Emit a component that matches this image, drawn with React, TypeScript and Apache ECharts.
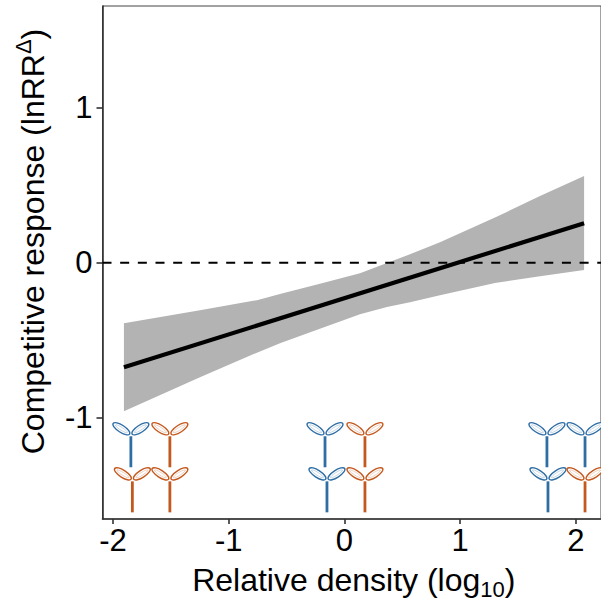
import React, { useEffect, useRef } from "react";
import * as echarts from "echarts";

const xTicks = [-2, -1, 0, 1, 2];
const yTicks = [-1, 0, 1];
const xMin = -2.09;
const xMax = 2.216;
const yMin = -1.655;
const yMax = 1.657;

const lineX = [-1.905, 2.07];
const lineY = [-0.675, 0.255];

const bandX = [-1.905, -1.248, -0.756, -0.557, -0.212, 0.134, 0.367, 0.566, 0.825, 1.3, 1.689, 2.07];
const bandUpper = [-0.391, -0.307, -0.242, -0.203, -0.136, -0.068, -0.003, 0.055, 0.132, 0.291, 0.43, 0.559];
const bandLower = [-0.959, -0.74, -0.581, -0.52, -0.426, -0.333, -0.287, -0.255, -0.21, -0.132, -0.087, -0.048];

const BLUE = "#2f6ea5";
const ORANGE = "#c4591f";

const plantX = [-1.845, -1.508, -0.168, 0.177, 1.749, 2.078, -1.832, -1.508, -0.151, 0.177, 1.758, 2.078];
const plantY = [-1.321, -1.321, -1.321, -1.321, -1.321, -1.321, -1.612, -1.612, -1.612, -1.612, -1.612, -1.612];
const plantKind = ["b", "o", "b", "o", "b", "b", "o", "o", "b", "o", "b", "o"];

function leaf(cx: number, cy: number, angle: number, color: string) {
  return {
    type: "group",
    x: cx,
    y: cy,
    rotation: angle,
    children: [
      { type: "ellipse", shape: { cx: 0, cy: 0, rx: 9.8, ry: 3.6 }, style: { fill: "#fff", stroke: color, lineWidth: 1.4 } },
      { type: "ellipse", shape: { cx: 0, cy: 0, rx: 7, ry: 1.4 }, style: { fill: "none", stroke: color, lineWidth: 0.5, opacity: 0.5 } },
    ],
  };
}

export default function App() {
  const ref = useRef<HTMLDivElement>(null);
  useEffect(() => {
    const chart = echarts.init(ref.current!, undefined, { renderer: "svg" });
    const font = "'Liberation Sans', Arial, sans-serif";
    chart.setOption({
      animation: false,
      backgroundColor: "#fff",
      grid: { left: 102.5, right: 0, top: 6, bottom: 81, outerBoundsMode: "none", show: true, borderColor: "#444", borderWidth: 1, backgroundColor: "transparent" },
      xAxis: {
        type: "value",
        min: xMin,
        max: xMax,
        splitLine: { show: false },
        axisLine: { onZero: false, lineStyle: { color: "#333", width: 1.6 } },
        axisTick: { length: 5, customValues: xTicks, lineStyle: { color: "#333", width: 1.6 } },
        axisLabel: { customValues: xTicks, fontSize: 31, color: "#000", fontFamily: font, margin: 6 },
        name: "Relative density (log{sub|10})",
        nameLocation: "middle",
        nameGap: 41,
        nameTextStyle: {
          fontSize: 32,
          color: "#000",
          fontFamily: font,
          padding: [0, 0, 0, 4],
          rich: {
            sub: { fontSize: 22, fontFamily: font, color: "#000", verticalAlign: "bottom", padding: [18, 0, 0, 0] },
          },
        },
      },
      yAxis: {
        type: "value",
        min: yMin,
        max: yMax,
        splitLine: { show: false },
        axisLine: { onZero: false, lineStyle: { color: "#333", width: 1.6 } },
        axisTick: { length: 6, customValues: yTicks, lineStyle: { color: "#333", width: 1.6 } },
        axisLabel: { customValues: yTicks, fontSize: 31, color: "#000", fontFamily: font, margin: 10 },
        name: "Competitive response (lnRR{sup|Δ})",
        nameLocation: "middle",
        nameGap: 50,
        nameTextStyle: {
          fontSize: 32,
          color: "#000",
          fontFamily: font,
          padding: [0, 0, 0, 42],
          rich: {
            sup: { fontSize: 22, fontFamily: font, color: "#000", verticalAlign: "top", padding: [0, 0, 18, 0] },
          },
        },
      },
      series: [
        {
          type: "custom",
          silent: true,
          clip: false,
          z: 1,
          data: [[0]],
          renderItem: (_p: any, api: any) => {
            const up = bandX.map((x, i) => api.coord([x, bandUpper[i]]));
            const lo = bandX.map((x, i) => api.coord([x, bandLower[i]])).reverse();
            return { type: "polygon", shape: { points: up.concat(lo) }, style: { fill: "#b3b3b3", stroke: "none" } };
          },
        },
        {
          type: "line",
          silent: true,
          z: 2,
          symbol: "none",
          data: [[xMin, 0], [xMax, 0]],
          lineStyle: { color: "#000", width: 2, type: [9, 8.67] },
        },
        {
          type: "line",
          silent: true,
          z: 3,
          symbol: "none",
          data: lineX.map((x, i) => [x, lineY[i]]),
          lineStyle: { color: "#000", width: 4.2, cap: "butt" },
        },
        {
          type: "custom",
          silent: true,
          clip: false,
          z: 4,
          data: plantX.map((x, i) => [x, plantY[i], plantKind[i] === "b" ? 0 : 1]),
          renderItem: (_p: any, api: any) => {
            const [px, py] = api.coord([api.value(0), api.value(1)]);
            const color = api.value(2) === 0 ? BLUE : ORANGE;
            const a = (33 * Math.PI) / 180;
            return {
              type: "group",
              children: [
                { type: "line", shape: { x1: px, y1: py, x2: px, y2: py - 31 }, style: { stroke: color, lineWidth: 2.8 } },
                leaf(px - 9.5, py - 38.5, -a, color),
                leaf(px + 9.5, py - 38.5, a, color),
              ],
            };
          },
        },
      ],
    });
    return () => chart.dispose();
  }, []);
  return <div ref={ref} style={{ position: "absolute", left: 0, top: 0, width: 601, height: 600 }} />;
}
